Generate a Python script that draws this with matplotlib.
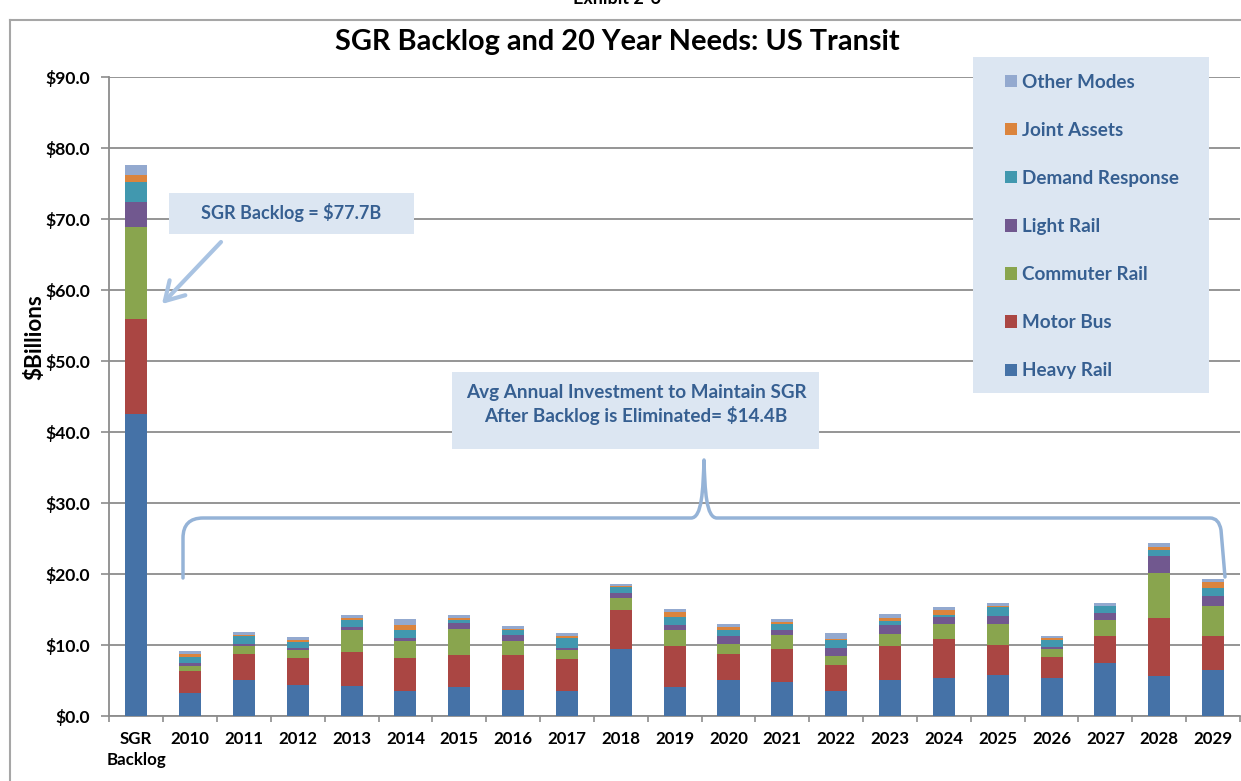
import matplotlib
matplotlib.use('Agg')
import matplotlib.pyplot as plt
from matplotlib.patches import Rectangle, FancyArrowPatch, PathPatch, Patch
from matplotlib.path import Path
from matplotlib.lines import Line2D
import numpy as np

plt.rcParams['font.family'] = ['Lato', 'DejaVu Sans']

# ---------------- data ----------------
categories = ['SGR\nBacklog', '2010', '2011', '2012', '2013', '2014', '2015', '2016',
              '2017', '2018', '2019', '2020', '2021', '2022', '2023', '2024', '2025',
              '2026', '2027', '2028', '2029']
heavy_rail = [42.6, 3.25, 5.08, 4.38, 4.24, 3.58, 4.14, 3.67, 3.58, 9.46, 4.09,
              5.08, 4.80, 3.58, 5.08, 5.35, 5.82, 5.35, 7.46, 5.63, 6.48]
motor_bus = [13.4, 3.10, 3.67, 3.81, 4.80, 4.61, 4.47, 4.94, 4.47, 5.50, 5.79,
             3.67, 4.66, 3.62, 4.80, 5.50, 4.18, 2.96, 3.81, 8.17, 4.79]
commuter_rail = [12.9, 0.70, 1.13, 1.13, 3.10, 2.40, 3.67, 1.98, 1.27, 1.70, 2.26,
                 1.41, 1.98, 1.27, 1.70, 2.11, 2.96, 1.13, 2.25, 6.34, 4.22]
light_rail = [3.5, 0.42, 0.28, 0.28, 0.42, 0.42, 0.85, 0.85, 0.28, 0.70, 0.71,
              1.13, 0.70, 1.13, 1.27, 0.98, 1.12, 0.28, 0.99, 2.40, 1.41]
demand_response = [2.8, 0.85, 1.13, 0.85, 0.95, 1.13, 0.38, 0.61, 1.41, 0.85, 1.13,
                   0.85, 0.85, 1.13, 0.56, 0.29, 1.27, 0.98, 0.98, 0.84, 1.13]
joint_assets = [1.1, 0.42, 0.19, 0.28, 0.33, 0.75, 0.33, 0.23, 0.28, 0.14, 0.70,
                0.42, 0.28, 0.14, 0.43, 0.70, 0.14, 0.29, 0.05, 0.42, 0.84]
other_modes = [1.4, 0.43, 0.38, 0.42, 0.42, 0.80, 0.42, 0.43, 0.43, 0.29, 0.43,
               0.43, 0.42, 0.85, 0.56, 0.42, 0.43, 0.28, 0.43, 0.57, 0.43]

series_names = ['Heavy Rail', 'Motor Bus', 'Commuter Rail', 'Light Rail',
                'Demand Response', 'Joint Assets', 'Other Modes']
series_values = [heavy_rail, motor_bus, commuter_rail, light_rail,
                 demand_response, joint_assets, other_modes]
series_colors = ['#4572A7', '#AA4643', '#89A54E', '#71588F', '#4198AF', '#DB843D', '#93A9CF']

yticks = [0, 10, 20, 30, 40, 50, 60, 70, 80, 90]
title = 'SGR Backlog and 20 Year Needs: US Transit'
exhibit = 'Exhibit 2-6'
ylabel = '$Billions'
note_backlog = 'SGR Backlog = $77.7B'
note_avg = 'Avg Annual Investment to Maintain SGR\nAfter Backlog is Eliminated= $14.4B'

# ---------------- layout ----------------
W, H = 1241, 781
fig = plt.figure(figsize=(W / 100, H / 100), dpi=100)
fig.patch.set_facecolor('white')

def fx(px):
    return px / W

def fy(py):
    return 1 - py / H

ax_l, ax_r, ax_t, ax_b = 109.3, 1240, 77.3, 716
ax = fig.add_axes([fx(ax_l), fy(ax_b), fx(ax_r - ax_l), (ax_b - ax_t) / H])

TXT = '#365F91'
GRID = '#8C8C8C'
BOXFILL = '#DCE6F2'

x = np.arange(len(categories))
bottom = np.zeros(len(categories))
for name, vals, col in zip(series_names, series_values, series_colors):
    ax.bar(x, vals, width=0.41, bottom=bottom, color=col, label=name, zorder=3,
           linewidth=0)
    bottom = bottom + np.array(vals)

ax.set_xlim(-0.5, len(categories) - 0.5)
ax.set_ylim(0, 90)
ax.set_yticks(yticks)
ax.set_yticklabels(['${:.1f}'.format(v) for v in yticks])
ax.set_xticks(x)
ax.set_xticklabels(categories, linespacing=1.35)
ax.set_xticks(np.arange(-0.5, len(categories), 1), minor=True)
ax.tick_params(axis='x', which='major', length=0, pad=11, labelsize=12.2)
ax.tick_params(axis='x', which='minor', length=4, color=GRID, width=1.2)
ax.tick_params(axis='y', which='major', length=6, color=GRID, width=1.2, pad=7.8,
               labelsize=12.6)
for lab in ax.get_xticklabels() + ax.get_yticklabels():
    lab.set_fontweight('bold')
ax.yaxis.grid(True, color=GRID, linewidth=1.3, zorder=0)
ax.set_axisbelow(True)
for s in ['top', 'right']:
    ax.spines[s].set_visible(False)
for s in ['left', 'bottom']:
    ax.spines[s].set_color(GRID)
    ax.spines[s].set_linewidth(1.3)

# y label
fig.text(fx(35), fy(337), ylabel, rotation=90, ha='center', va='center',
         fontsize=16.2, fontweight='bold')

# title and exhibit caption (mostly cut off at the top in the source)
fig.text(fx(617), fy(42), title, ha='center', va='center', fontsize=20.8,
         fontweight='bold')
fig.text(fx(617), fy(4), exhibit, ha='center', va='baseline', fontsize=13,
         fontweight='bold')

# chart frame (left & top borders)
fig.add_artist(Line2D([fx(10), fx(10)], [fy(20), 0], color='#A6A6A6', lw=1.5))
fig.add_artist(Line2D([fx(10), 1], [fy(20), fy(20)], color='#A6A6A6', lw=1.5))

# legend with background box
ax.add_patch(Rectangle((fx(972.7), fy(393)), fx(1209 - 972.7), (393 - 56.7) / H,
                       transform=fig.transFigure, facecolor=BOXFILL, edgecolor='none',
                       zorder=4, clip_on=False))
handles = [Patch(facecolor=c, edgecolor='none') for c in series_colors][::-1]
leg = ax.legend(handles, series_names[::-1], loc='upper left',
                bbox_to_anchor=(fx(1005), fy(73.5)), bbox_transform=fig.transFigure,
                frameon=False, borderpad=0, borderaxespad=0,
                handlelength=0.64, handleheight=0.64, handletextpad=0.28,
                labelspacing=1.65, prop={'weight': 'bold', 'size': 13.6},
                labelcolor=TXT)
leg.set_zorder(6)

# annotation boxes
def note_box(x0, y0, x1, y1, text, cx, cy, fs):
    ax.add_patch(Rectangle((fx(x0), fy(y1)), fx(x1 - x0), (y1 - y0) / H,
                           transform=fig.transFigure, facecolor=BOXFILL,
                           edgecolor='none', zorder=4, clip_on=False))
    fig.text(fx(cx), fy(cy), text, ha='center', va='center', fontsize=fs,
             fontweight='bold', color=TXT, linespacing=1.35, zorder=7)

note_box(169, 192.7, 414, 234.3, note_backlog, 291, 212, 13.0)
note_box(452.3, 372, 819, 448.7, note_avg, 636, 404.5, 13.6)

# arrow
arr = FancyArrowPatch((fx(221), fy(242)), (fx(162), fy(304)),
                      transform=fig.transFigure,
                      arrowstyle='->,head_length=1.1,head_width=0.65',
                      mutation_scale=12, lw=3, color='#A9C3E2',
                      shrinkA=0, shrinkB=0, zorder=5, clip_on=False)
ax.add_patch(arr)

# bracket
pts = [(183, 578), (183, 538), (183, 518), (203, 518),
       (691, 518), (702, 518), (703, 490), (704, 460),
       (705, 490), (706, 518), (717, 518),
       (1210, 518), (1219, 518), (1221, 530), (1225, 577)]
codes = [Path.MOVETO, Path.LINETO, Path.CURVE3, Path.CURVE3,
         Path.LINETO, Path.CURVE4, Path.CURVE4, Path.CURVE4,
         Path.CURVE4, Path.CURVE4, Path.CURVE4,
         Path.LINETO, Path.CURVE3, Path.CURVE3, Path.LINETO]
path = Path([(fx(a), fy(b)) for a, b in pts], codes)
ax.add_patch(PathPatch(path, transform=fig.transFigure, facecolor='none',
                       edgecolor='#95B3D7', lw=2.5, capstyle='round',
                       joinstyle='round', zorder=5, clip_on=False))

fig.savefig('out.png', dpi=100)
